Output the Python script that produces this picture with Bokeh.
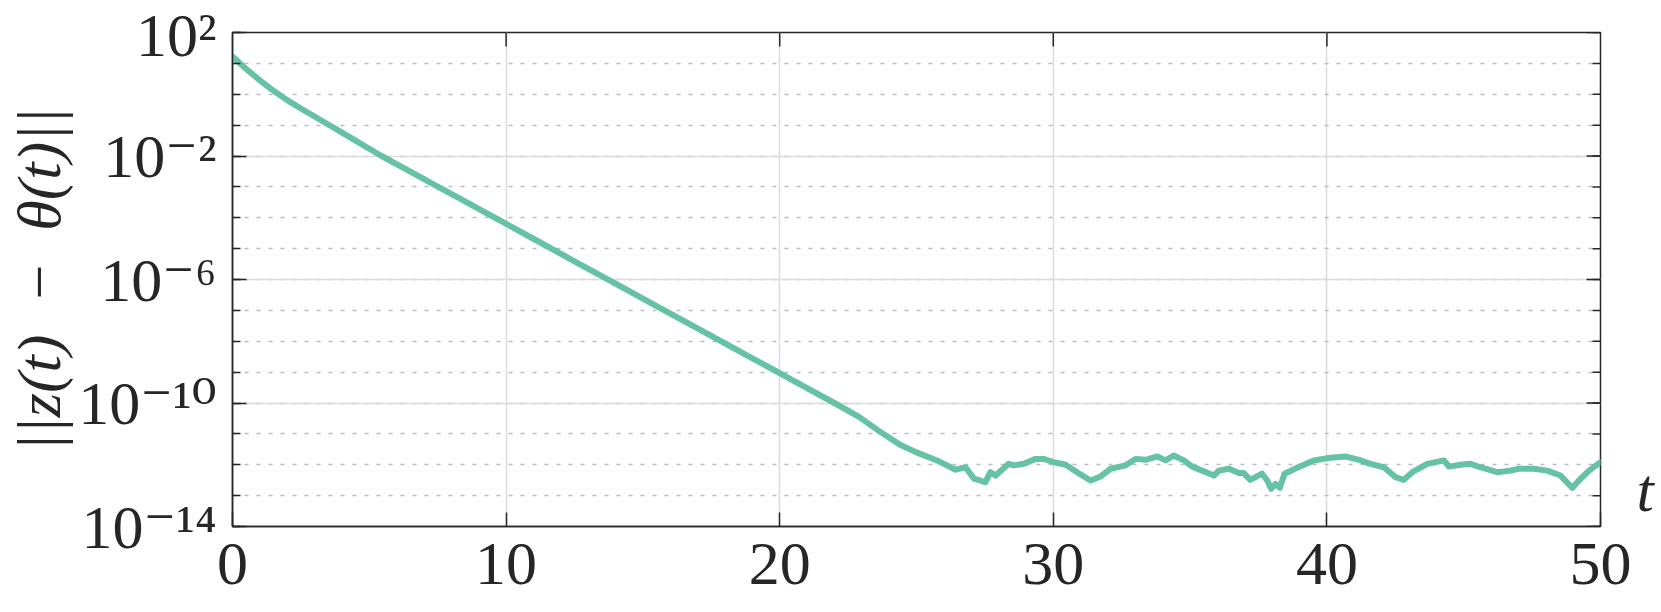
from math import pi
from bokeh.plotting import figure
from bokeh.models import Range1d, FixedTicker, LogAxis
from bokeh.embed import file_html
from bokeh.resources import INLINE

# ---- data ----
t_vals = [0.0, 0.5, 1.0, 1.5, 2.0, 2.5, 3.0, 3.5, 4.5, 5.45, 6.4, 7.35, 8.5, 9.7,
          11.0, 12.5, 14.0, 15.5, 17.0, 18.5, 20.0, 21.0, 22.0, 22.9, 23.7,
          24.4, 25.0, 25.75, 26.43, 26.79, 27.1, 27.52, 27.7, 27.89, 28.37,
          28.56, 28.92, 29.35, 29.65, 30.02, 30.45, 30.87, 31.36, 31.73, 32.09,
          32.64, 33.0, 33.37, 33.8, 34.1, 34.4, 34.77, 35.08, 35.44, 35.87,
          36.05, 36.42, 36.78, 36.96, 37.2, 37.63, 37.82, 37.96, 38.12, 38.28,
          38.45, 39.03, 39.52, 40.13, 40.68, 41.17, 41.59, 42.08, 42.51, 42.81,
          43.12, 43.67, 44.28, 44.46, 44.95, 45.25, 45.61, 46.22, 46.71, 47.01,
          47.56, 48.05, 48.54, 48.97, 49.21, 49.58, 50.0]
log10_err = [1.22, 0.82, 0.45, 0.11, -0.19, -0.46, -0.72, -0.98, -1.5, -2.0, -2.46, -2.92, -3.47, -4.05,
             -4.68, -5.41, -6.13, -6.86, -7.58, -8.31, -9.03, -9.52, -10.0, -10.45, -10.95,
             -11.35, -11.6, -11.86, -12.16, -12.08, -12.45, -12.56, -12.24, -12.35, -11.97,
             -12.02, -11.97, -11.81, -11.81, -11.92, -12.0, -12.24, -12.51, -12.38, -12.13,
             -12.02, -11.81, -11.84, -11.73, -11.86, -11.70, -11.86, -12.06, -12.19, -12.35,
             -12.19, -12.13, -12.27, -12.27, -12.49, -12.29, -12.51, -12.78, -12.62, -12.75,
             -12.29, -12.05, -11.86, -11.77, -11.73, -11.84, -11.97, -12.08, -12.40, -12.49,
             -12.24, -11.97, -11.86, -12.06, -11.99, -11.97, -12.08, -12.24, -12.19, -12.13,
             -12.13, -12.19, -12.35, -12.75, -12.51, -12.19, -11.92]
err_vals = [10.0 ** v for v in log10_err]

x_ticks = [0, 10, 20, 30, 40, 50]
x_tick_labels = ["0", "10", "20", "30", "40", "50"]
x_inner_ticks = [10, 20, 30, 40]
y_major_ticks = [1e2, 1e-2, 1e-6, 1e-10, 1e-14]
y_tick_labels = ["10²", "10⁻²", "10⁻⁶", "10⁻¹⁰", "10⁻¹⁴"]
y_minor_ticks = [1e2, 1e1, 1e0, 1e-1, 1e-2, 1e-3, 1e-4, 1e-5, 1e-6, 1e-7, 1e-8,
                 1e-9, 1e-10, 1e-11, 1e-12, 1e-13, 1e-14]

y_label = "||z(t)\u2002−\u2002θ(t)||"
x_label = "t"
x_label_at = 1.5e-13   # height (in data units) where the "t" sits, right of the frame

FONT = "Liberation Serif, DejaVu Serif"
DARK = "#262626"
LINE = "#66c2a5"

X0, X1 = 0, 50
Y0, Y1 = 1e-14, 1e2

p = figure(width=1661, height=612,
           x_range=Range1d(X0, X1), y_range=Range1d(Y0, Y1),
           y_axis_type="log", output_backend="svg", toolbar_location=None)
p.min_border_left = 232
p.min_border_right = 61
p.min_border_top = 32
p.min_border_bottom = 86
p.background_fill_color = "white"
p.border_fill_color = "white"
p.outline_line_color = DARK
p.outline_line_width = 1.5

yticker = FixedTicker(ticks=y_major_ticks, minor_ticks=y_minor_ticks)
xticker = FixedTicker(ticks=x_ticks, minor_ticks=[])

# grids
p.xgrid.ticker = FixedTicker(ticks=x_inner_ticks, minor_ticks=[])
p.xgrid.grid_line_color = "#dcdcdc"
p.xgrid.grid_line_width = 1.5
p.ygrid.ticker = yticker
p.ygrid.grid_line_color = "#dcdcdc"
p.ygrid.grid_line_width = 1.5
p.ygrid.minor_grid_line_color = "#bdbdbd"
p.ygrid.minor_grid_line_width = 1.5
p.ygrid.minor_grid_line_dash = "4 8"


def style_axis(ax):
    ax.axis_line_color = DARK
    ax.axis_line_width = 1.5
    ax.major_tick_line_color = DARK
    ax.major_tick_line_width = 1.5
    ax.minor_tick_line_color = DARK
    ax.minor_tick_line_width = 1.5
    ax.major_tick_in = 14
    ax.major_tick_out = 0
    ax.minor_tick_in = 8
    ax.minor_tick_out = 0
    ax.major_label_text_font = FONT
    ax.major_label_text_color = DARK


# left axis
ya = p.yaxis[0]
ya.ticker = yticker
style_axis(ya)
ya.major_label_overrides = dict(zip(y_major_ticks, y_tick_labels))
ya.major_label_text_font_size = "62px"
ya.major_label_standoff = 16
ya.axis_label = y_label
ya.axis_label_text_font = FONT
ya.axis_label_text_font_style = "italic"
ya.axis_label_text_font_size = "62px"
ya.axis_label_text_color = DARK
ya.axis_label_standoff = 2

# bottom axis
xa = p.xaxis[0]
xa.ticker = xticker
style_axis(xa)
xa.major_label_overrides = dict(zip(x_ticks, x_tick_labels))
xa.major_label_text_font_size = "62px"
xa.major_label_standoff = 17

# right side: carries only the italic "t" (the x-axis name), no line, no ticks
ra = LogAxis(ticker=FixedTicker(ticks=[x_label_at], minor_ticks=[]))
ra.axis_line_color = None
ra.major_tick_line_color = None
ra.minor_tick_line_color = None
ra.major_tick_in = 0
ra.major_tick_out = 0
ra.major_label_standoff = 36
ra.major_label_overrides = {x_label_at: x_label}
ra.major_label_text_font = FONT
ra.major_label_text_font_style = "italic"
ra.major_label_text_font_size = "62px"
ra.major_label_text_color = DARK
p.add_layout(ra, "right")

# mirrored inward ticks on the right and top edges
p.ray(x=[X1] * len(y_minor_ticks), y=y_minor_ticks, length=8, angle=pi,
      length_units="screen", line_color=DARK, line_width=1.5)
p.ray(x=[X1] * len(y_major_ticks), y=y_major_ticks, length=14, angle=pi,
      length_units="screen", line_color=DARK, line_width=1.5)
p.ray(x=x_inner_ticks, y=[Y1] * len(x_inner_ticks), length=14, angle=-pi / 2,
      length_units="screen", line_color=DARK, line_width=1.5)

p.line(t_vals, err_vals, line_color=LINE, line_width=6,
       line_join="round", line_cap="round")

open("out.html", "w").write(file_html(p, INLINE))
